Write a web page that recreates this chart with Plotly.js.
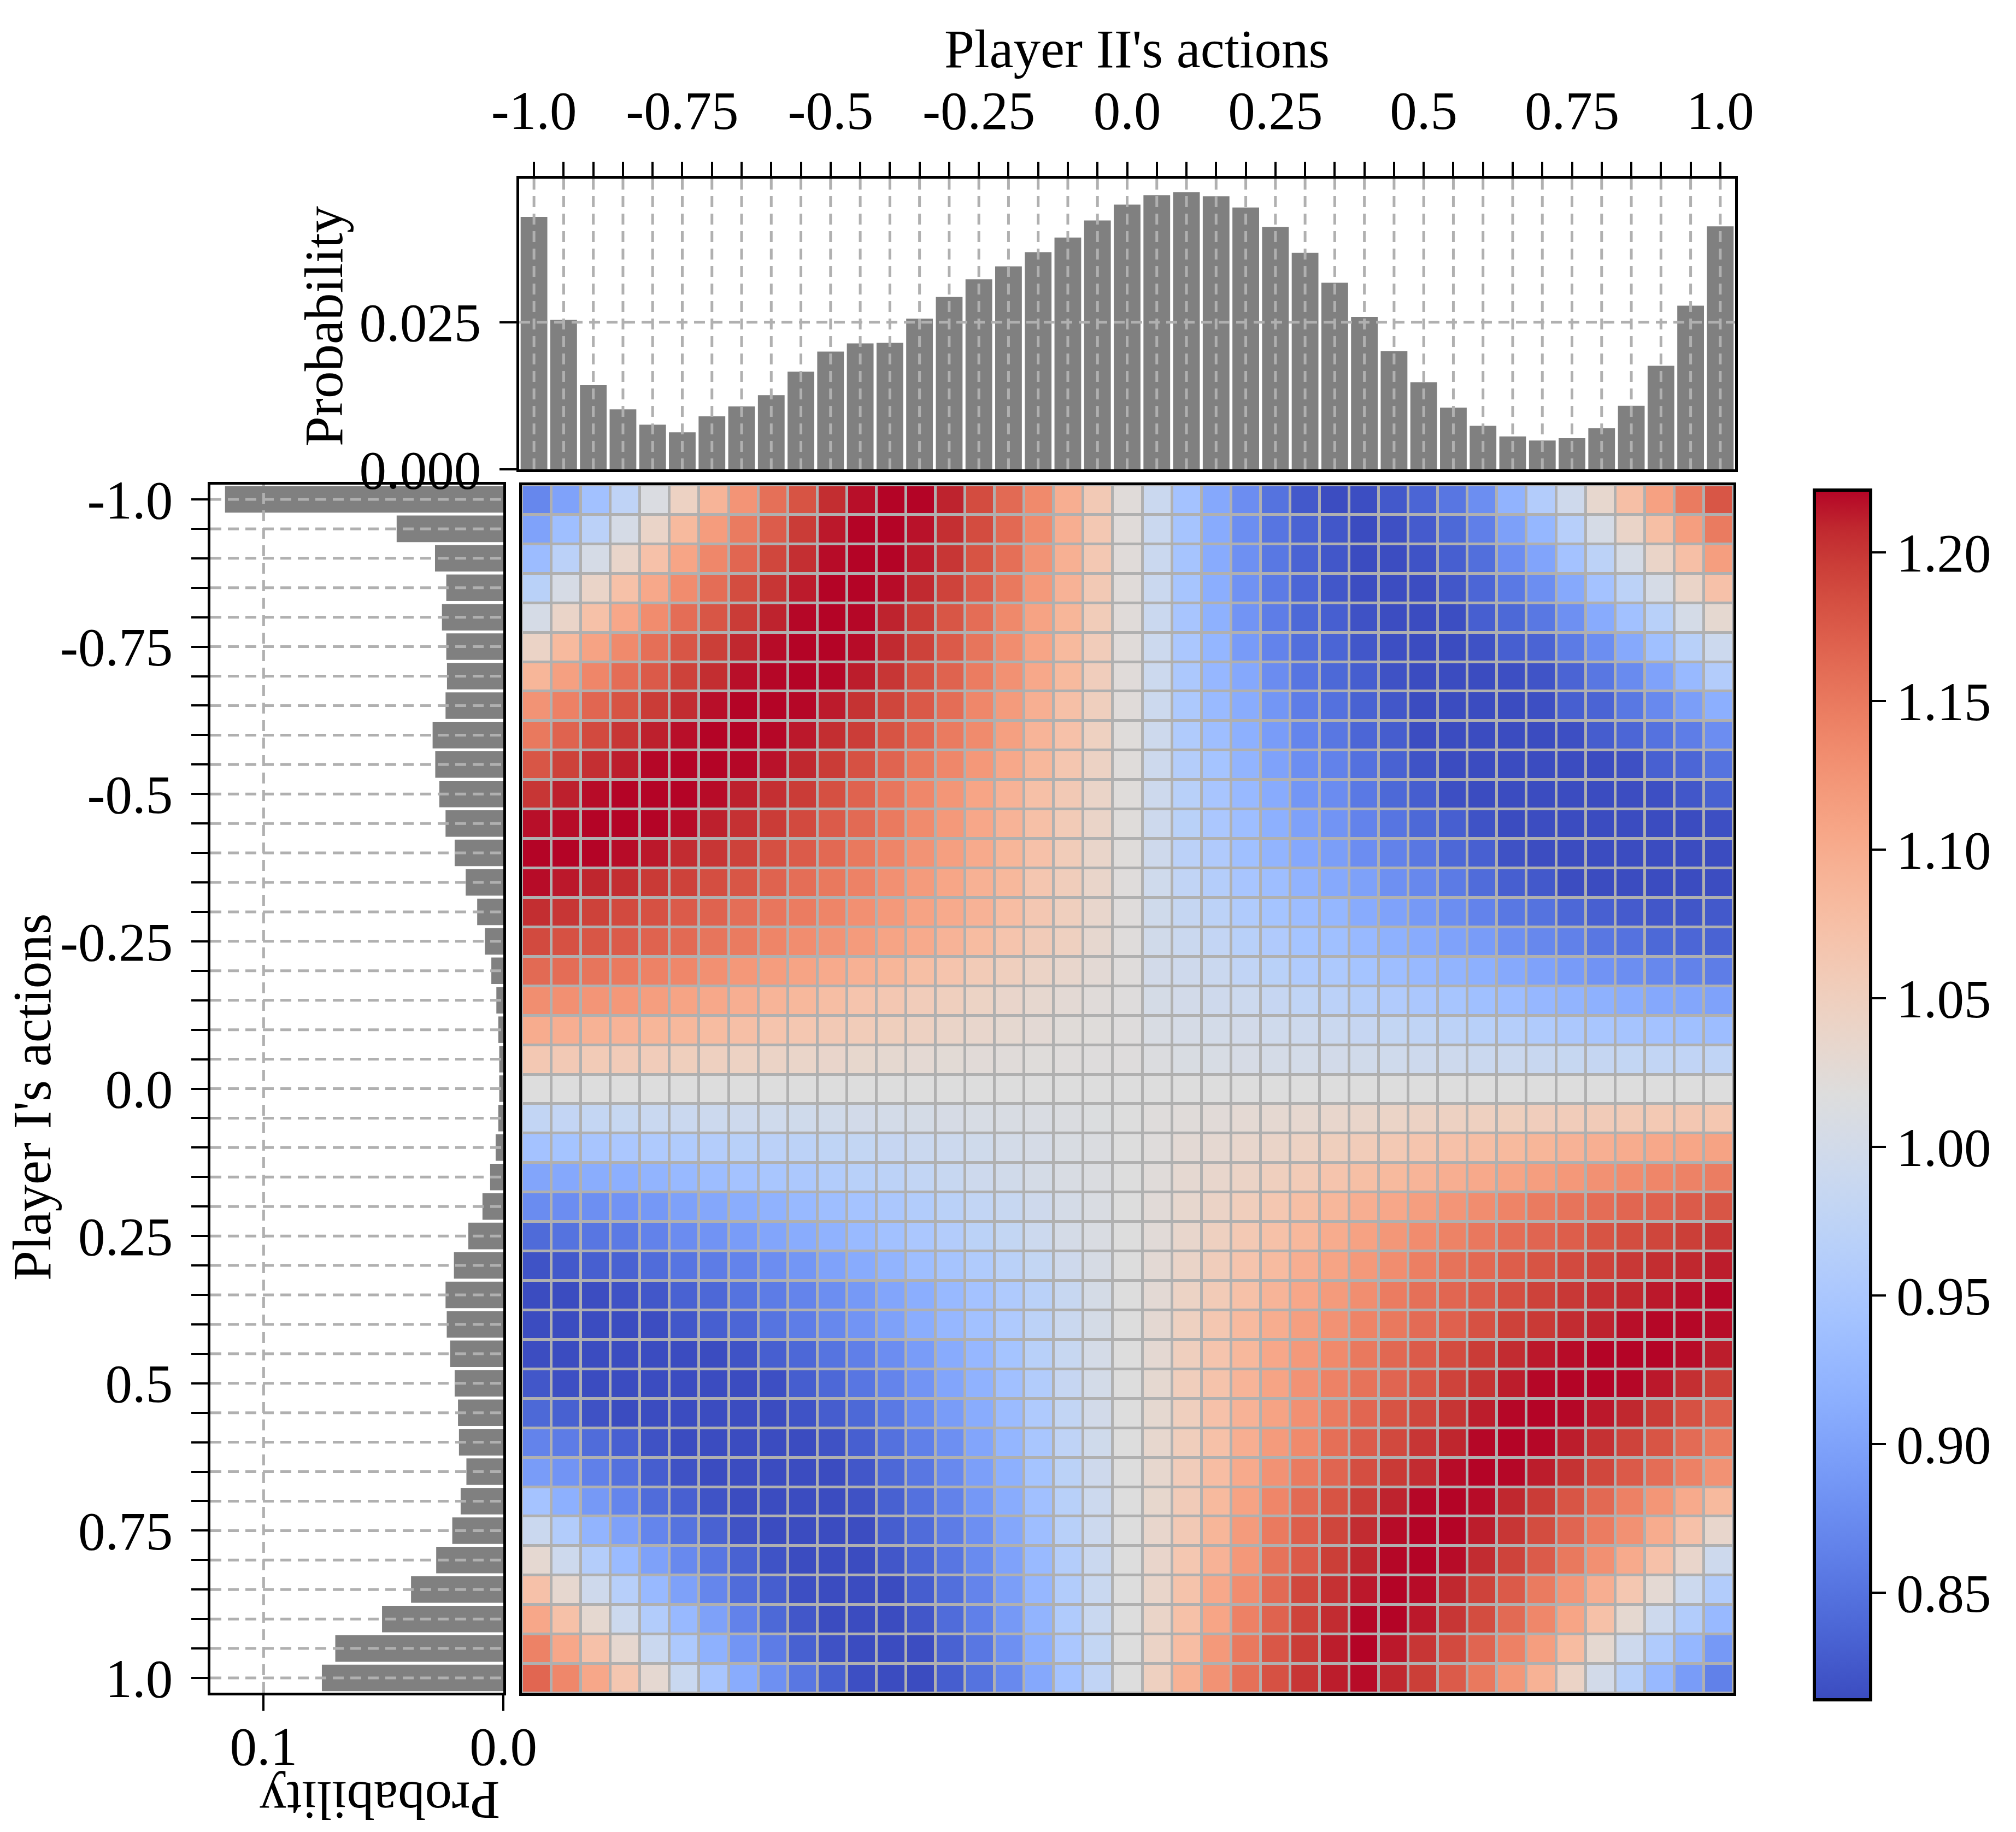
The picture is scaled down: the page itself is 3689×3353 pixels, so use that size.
<!DOCTYPE html>
<html><head><meta charset="utf-8">
<script src="https://cdn.plot.ly/plotly-3.0.1.min.js"></script>
<style>html,body{margin:0;padding:0;background:#fff;}#chart{width:3689px;height:3353px;}</style>
</head><body><div id="chart"></div>
<script>
// ---------- data ----------
const actions = [-1.0,-0.95,-0.9,-0.85,-0.8,-0.75,-0.7,-0.65,-0.6,-0.55,-0.5,-0.45,-0.4,-0.35,-0.3,-0.25,-0.2,-0.15,-0.1,-0.05,0.0,0.05,0.1,0.15,0.2,0.25,0.3,0.35,0.4,0.45,0.5,0.55,0.6,0.65,0.7,0.75,0.8,0.85,0.9,0.95,1.0];
const majorTicks = [-1.0,-0.75,-0.5,-0.25,0.0,0.25,0.5,0.75,1.0];
const majorLabels = ['-1.0','-0.75','-0.5','-0.25','0.0','0.25','0.5','0.75','1.0'];

// marginal probability of Player II's actions (top histogram)
const probPlayerII = [0.0429,0.0254,0.0143,0.0102,0.0076,0.0063,0.0090,0.0107,0.0126,0.0166,0.0200,0.0214,0.0215,0.0256,0.0293,0.0323,0.0345,0.0369,0.0394,0.0423,0.0450,0.0466,0.0471,0.0464,0.0445,0.0412,0.0368,0.0317,0.0259,0.0201,0.0148,0.0105,0.0074,0.0056,0.0049,0.0053,0.0070,0.0108,0.0176,0.0278,0.0413];
// marginal probability of Player I's actions (left histogram)
const probPlayerI = [0.1161,0.0445,0.0285,0.0238,0.0256,0.0238,0.0235,0.0241,0.0295,0.0284,0.0267,0.0241,0.0203,0.0157,0.0109,0.0077,0.0050,0.0029,0.0021,0.0017,0.0017,0.0021,0.0032,0.0055,0.0087,0.0146,0.0206,0.0241,0.0236,0.0222,0.0203,0.0189,0.0185,0.0154,0.0178,0.0213,0.0280,0.0385,0.0506,0.0701,0.0757];

const probTickVals = [0.0, 0.025];
const probTickText = ['0.000', '0.025'];
const probITickVals = [0.1, 0.0];
const probITickText = ['0.1', '0.0'];
const cbTickVals = [0.85,0.90,0.95,1.00,1.05,1.10,1.15,1.20];
const cbTickText = ['0.85','0.90','0.95','1.00','1.05','1.10','1.15','1.20'];

// payoff matrix: rows = Player I's action, columns = Player II's action
const payoff = [
[0.870,0.900,0.940,0.975,1.012,1.045,1.090,1.125,1.157,1.180,1.205,1.217,1.224,1.224,1.210,1.186,1.162,1.135,1.097,1.060,1.022,0.990,0.942,0.906,0.877,0.850,0.826,0.815,0.816,0.826,0.837,0.853,0.878,0.920,0.960,0.995,1.033,1.075,1.112,1.148,1.178],
[0.900,0.937,0.970,1.005,1.040,1.083,1.117,1.148,1.173,1.197,1.214,1.224,1.224,1.216,1.204,1.186,1.163,1.134,1.097,1.062,1.022,0.990,0.945,0.910,0.878,0.852,0.835,0.824,0.814,0.818,0.828,0.840,0.862,0.897,0.925,0.965,1.005,1.040,1.076,1.115,1.148],
[0.933,0.970,1.005,1.038,1.072,1.108,1.137,1.165,1.189,1.204,1.218,1.224,1.224,1.213,1.200,1.180,1.158,1.126,1.095,1.062,1.022,0.990,0.945,0.910,0.880,0.855,0.835,0.824,0.814,0.815,0.820,0.831,0.846,0.877,0.902,0.942,0.972,1.005,1.040,1.075,1.115],
[0.968,1.006,1.040,1.073,1.104,1.133,1.160,1.185,1.200,1.213,1.223,1.224,1.218,1.207,1.192,1.173,1.150,1.120,1.092,1.060,1.022,0.990,0.946,0.914,0.882,0.858,0.838,0.824,0.815,0.815,0.815,0.824,0.838,0.856,0.878,0.908,0.942,0.972,1.005,1.040,1.072],
[1.005,1.040,1.073,1.105,1.133,1.160,1.178,1.197,1.210,1.220,1.224,1.220,1.210,1.197,1.178,1.160,1.136,1.110,1.088,1.056,1.022,0.990,0.947,0.917,0.884,0.860,0.840,0.831,0.819,0.815,0.813,0.816,0.831,0.840,0.855,0.880,0.910,0.940,0.967,1.003,1.031],
[1.042,1.083,1.110,1.135,1.158,1.178,1.195,1.208,1.218,1.224,1.224,1.218,1.207,1.193,1.175,1.153,1.132,1.108,1.083,1.055,1.022,0.992,0.950,0.924,0.892,0.866,0.846,0.837,0.824,0.817,0.813,0.813,0.819,0.831,0.836,0.858,0.878,0.908,0.938,0.966,0.992],
[1.088,1.113,1.138,1.160,1.175,1.193,1.205,1.217,1.220,1.224,1.220,1.212,1.200,1.183,1.168,1.147,1.128,1.104,1.083,1.053,1.022,0.992,0.952,0.926,0.906,0.876,0.852,0.840,0.830,0.819,0.814,0.813,0.814,0.817,0.821,0.836,0.854,0.874,0.899,0.929,0.960],
[1.126,1.143,1.165,1.180,1.197,1.206,1.217,1.221,1.224,1.220,1.213,1.202,1.190,1.176,1.160,1.137,1.118,1.096,1.074,1.050,1.022,0.992,0.953,0.930,0.911,0.886,0.860,0.848,0.834,0.824,0.814,0.813,0.812,0.814,0.817,0.831,0.836,0.855,0.872,0.895,0.915],
[1.150,1.168,1.187,1.200,1.211,1.217,1.221,1.224,1.220,1.214,1.205,1.196,1.180,1.165,1.148,1.134,1.113,1.090,1.072,1.047,1.021,0.993,0.957,0.935,0.916,0.893,0.868,0.854,0.838,0.829,0.815,0.813,0.813,0.812,0.813,0.817,0.829,0.838,0.849,0.860,0.877],
[1.178,1.193,1.204,1.212,1.220,1.223,1.224,1.220,1.216,1.208,1.197,1.182,1.167,1.150,1.137,1.121,1.104,1.085,1.065,1.044,1.021,0.994,0.962,0.944,0.922,0.900,0.878,0.865,0.848,0.834,0.820,0.814,0.813,0.812,0.812,0.813,0.814,0.818,0.832,0.838,0.850],
[1.200,1.211,1.218,1.222,1.224,1.221,1.218,1.211,1.204,1.197,1.183,1.168,1.152,1.137,1.123,1.108,1.092,1.074,1.060,1.040,1.021,0.994,0.967,0.947,0.929,0.910,0.886,0.876,0.856,0.840,0.830,0.817,0.814,0.813,0.812,0.812,0.812,0.815,0.817,0.824,0.833],
[1.217,1.218,1.223,1.224,1.223,1.218,1.211,1.203,1.197,1.187,1.174,1.162,1.149,1.134,1.120,1.105,1.091,1.074,1.058,1.040,1.021,0.994,0.968,0.950,0.935,0.916,0.898,0.884,0.866,0.852,0.840,0.831,0.820,0.814,0.815,0.812,0.812,0.812,0.814,0.814,0.817],
[1.224,1.222,1.221,1.218,1.214,1.206,1.200,1.193,1.183,1.174,1.163,1.150,1.139,1.126,1.114,1.102,1.088,1.072,1.056,1.038,1.021,0.995,0.970,0.956,0.938,0.922,0.906,0.895,0.877,0.865,0.854,0.839,0.832,0.819,0.815,0.813,0.812,0.812,0.812,0.812,0.812],
[1.218,1.214,1.209,1.205,1.198,1.193,1.184,1.178,1.168,1.159,1.150,1.142,1.129,1.118,1.107,1.094,1.085,1.065,1.054,1.038,1.020,0.996,0.978,0.962,0.947,0.935,0.920,0.908,0.898,0.880,0.871,0.858,0.843,0.831,0.826,0.815,0.814,0.813,0.812,0.814,0.815],
[1.205,1.200,1.193,1.187,1.182,1.174,1.168,1.159,1.152,1.147,1.139,1.129,1.120,1.110,1.102,1.092,1.078,1.063,1.050,1.036,1.020,0.997,0.983,0.972,0.957,0.944,0.934,0.925,0.910,0.900,0.889,0.878,0.866,0.855,0.850,0.839,0.832,0.828,0.824,0.823,0.826],
[1.187,1.182,1.178,1.174,1.168,1.162,1.153,1.148,1.139,1.132,1.126,1.118,1.109,1.102,1.091,1.080,1.068,1.057,1.048,1.032,1.020,0.998,0.990,0.980,0.967,0.956,0.944,0.938,0.928,0.917,0.910,0.899,0.893,0.880,0.871,0.864,0.854,0.849,0.840,0.838,0.835],
[1.162,1.160,1.153,1.149,1.142,1.137,1.129,1.121,1.116,1.109,1.102,1.094,1.088,1.076,1.068,1.058,1.050,1.042,1.035,1.027,1.020,1.000,0.995,0.990,0.978,0.968,0.957,0.953,0.944,0.935,0.929,0.922,0.916,0.908,0.899,0.892,0.883,0.878,0.871,0.865,0.860],
[1.131,1.129,1.124,1.121,1.115,1.109,1.104,1.097,1.090,1.085,1.077,1.068,1.063,1.055,1.050,1.043,1.037,1.032,1.027,1.022,1.019,1.004,1.000,0.995,0.992,0.984,0.977,0.970,0.963,0.958,0.951,0.946,0.938,0.934,0.926,0.922,0.917,0.912,0.907,0.904,0.900],
[1.100,1.097,1.093,1.091,1.088,1.085,1.080,1.075,1.068,1.064,1.060,1.056,1.051,1.046,1.040,1.035,1.031,1.027,1.023,1.021,1.019,1.009,1.005,1.002,1.000,0.996,0.994,0.990,0.984,0.981,0.977,0.972,0.967,0.963,0.957,0.952,0.948,0.945,0.942,0.938,0.934],
[1.062,1.060,1.058,1.057,1.055,1.051,1.048,1.045,1.042,1.039,1.037,1.034,1.031,1.028,1.026,1.024,1.022,1.021,1.020,1.019,1.019,1.014,1.010,1.008,1.006,1.003,1.002,1.000,0.998,0.996,0.994,0.993,0.990,0.989,0.987,0.985,0.983,0.981,0.979,0.978,0.977],
[1.018,1.018,1.018,1.018,1.018,1.018,1.018,1.018,1.018,1.018,1.018,1.018,1.018,1.018,1.018,1.018,1.018,1.018,1.018,1.018,1.018,1.018,1.018,1.018,1.018,1.018,1.018,1.018,1.018,1.018,1.018,1.018,1.018,1.018,1.018,1.018,1.018,1.018,1.018,1.018,1.018],
[0.979,0.980,0.982,0.985,0.988,0.990,0.992,0.994,0.996,0.997,0.998,1.000,1.002,1.004,1.006,1.008,1.009,1.011,1.013,1.015,1.017,1.020,1.022,1.024,1.028,1.030,1.032,1.036,1.038,1.041,1.044,1.046,1.048,1.051,1.053,1.055,1.057,1.059,1.061,1.063,1.064],
[0.942,0.944,0.947,0.950,0.955,0.957,0.961,0.966,0.970,0.972,0.976,0.981,0.984,0.990,0.992,0.997,1.002,1.005,1.010,1.013,1.017,1.020,1.027,1.030,1.036,1.040,1.045,1.051,1.056,1.061,1.067,1.072,1.077,1.083,1.088,1.092,1.096,1.100,1.104,1.107,1.110],
[0.903,0.907,0.912,0.915,0.921,0.928,0.934,0.942,0.948,0.952,0.959,0.966,0.972,0.979,0.986,0.994,0.998,1.004,1.009,1.013,1.017,1.022,1.030,1.036,1.042,1.050,1.058,1.068,1.076,1.083,1.090,1.097,1.103,1.109,1.115,1.121,1.128,1.133,1.138,1.142,1.146],
[0.875,0.877,0.879,0.883,0.888,0.898,0.905,0.912,0.919,0.928,0.935,0.943,0.951,0.959,0.969,0.979,0.986,0.995,1.003,1.011,1.017,1.024,1.033,1.042,1.052,1.064,1.076,1.086,1.097,1.105,1.115,1.124,1.132,1.140,1.148,1.154,1.160,1.165,1.169,1.174,1.178],
[0.842,0.850,0.853,0.857,0.865,0.876,0.883,0.893,0.903,0.911,0.919,0.930,0.940,0.950,0.960,0.971,0.981,0.992,1.003,1.011,1.017,1.024,1.036,1.048,1.061,1.073,1.085,1.100,1.111,1.122,1.133,1.141,1.151,1.160,1.166,1.172,1.180,1.185,1.190,1.195,1.200],
[0.820,0.826,0.831,0.834,0.843,0.852,0.859,0.866,0.877,0.886,0.899,0.910,0.922,0.935,0.945,0.957,0.969,0.981,0.995,1.007,1.017,1.027,1.040,1.054,1.068,1.081,1.097,1.109,1.120,1.132,1.145,1.155,1.163,1.172,1.180,1.187,1.193,1.199,1.205,1.208,1.212],
[0.812,0.813,0.815,0.819,0.824,0.834,0.839,0.850,0.859,0.867,0.878,0.889,0.903,0.914,0.929,0.942,0.955,0.969,0.986,1.004,1.017,1.027,1.043,1.058,1.073,1.090,1.105,1.118,1.131,1.147,1.157,1.165,1.174,1.184,1.193,1.199,1.204,1.208,1.214,1.217,1.220],
[0.812,0.812,0.812,0.813,0.815,0.824,0.831,0.838,0.851,0.860,0.871,0.884,0.898,0.912,0.926,0.940,0.955,0.972,0.990,1.004,1.017,1.029,1.047,1.064,1.082,1.099,1.114,1.127,1.140,1.150,1.161,1.169,1.182,1.193,1.198,1.206,1.210,1.217,1.220,1.220,1.218],
[0.815,0.813,0.812,0.812,0.812,0.812,0.814,0.820,0.831,0.839,0.851,0.862,0.877,0.893,0.910,0.926,0.944,0.966,0.986,1.003,1.017,1.029,1.050,1.068,1.085,1.105,1.120,1.135,1.150,1.164,1.174,1.186,1.197,1.206,1.214,1.218,1.223,1.223,1.223,1.218,1.212],
[0.824,0.817,0.813,0.812,0.812,0.812,0.812,0.813,0.817,0.830,0.839,0.853,0.867,0.884,0.903,0.919,0.939,0.959,0.984,1.002,1.017,1.031,1.052,1.070,1.090,1.109,1.127,1.142,1.155,1.166,1.179,1.192,1.202,1.212,1.220,1.223,1.223,1.220,1.214,1.204,1.194],
[0.840,0.833,0.819,0.814,0.812,0.812,0.812,0.812,0.814,0.820,0.829,0.840,0.856,0.875,0.893,0.911,0.932,0.955,0.979,1.000,1.017,1.031,1.050,1.072,1.092,1.110,1.129,1.148,1.165,1.180,1.190,1.201,1.212,1.220,1.223,1.220,1.214,1.208,1.197,1.182,1.171],
[0.866,0.859,0.843,0.832,0.819,0.814,0.812,0.812,0.812,0.813,0.819,0.831,0.848,0.863,0.879,0.903,0.924,0.948,0.975,0.997,1.017,1.033,1.052,1.073,1.097,1.118,1.135,1.158,1.174,1.188,1.200,1.209,1.220,1.223,1.220,1.212,1.203,1.192,1.179,1.161,1.148],
[0.893,0.884,0.863,0.848,0.830,0.819,0.814,0.812,0.812,0.812,0.814,0.824,0.839,0.854,0.872,0.896,0.916,0.944,0.971,0.995,1.017,1.033,1.055,1.078,1.102,1.127,1.148,1.166,1.184,1.198,1.206,1.218,1.223,1.220,1.212,1.202,1.189,1.175,1.160,1.143,1.127],
[0.943,0.916,0.889,0.868,0.843,0.832,0.820,0.814,0.812,0.812,0.813,0.819,0.833,0.848,0.865,0.888,0.911,0.939,0.967,0.992,1.017,1.034,1.057,1.083,1.110,1.138,1.162,1.180,1.197,1.210,1.220,1.223,1.218,1.208,1.197,1.179,1.163,1.143,1.123,1.102,1.083],
[0.990,0.959,0.921,0.898,0.868,0.850,0.834,0.819,0.814,0.812,0.812,0.815,0.830,0.843,0.859,0.879,0.905,0.935,0.967,0.992,1.017,1.036,1.060,1.088,1.118,1.149,1.172,1.190,1.206,1.218,1.223,1.223,1.212,1.200,1.185,1.166,1.147,1.128,1.100,1.072,1.036],
[1.030,0.994,0.962,0.931,0.898,0.872,0.853,0.834,0.820,0.814,0.812,0.813,0.824,0.837,0.853,0.874,0.899,0.930,0.962,0.990,1.017,1.037,1.064,1.092,1.121,1.155,1.175,1.195,1.209,1.220,1.223,1.218,1.206,1.192,1.174,1.150,1.129,1.102,1.072,1.037,0.993],
[1.072,1.032,0.995,0.965,0.928,0.898,0.869,0.843,0.830,0.817,0.812,0.812,0.814,0.830,0.846,0.867,0.895,0.926,0.959,0.988,1.017,1.038,1.070,1.104,1.132,1.162,1.189,1.203,1.214,1.223,1.218,1.208,1.192,1.175,1.148,1.124,1.097,1.064,1.028,0.992,0.959],
[1.105,1.073,1.031,0.992,0.959,0.928,0.898,0.865,0.840,0.824,0.814,0.812,0.813,0.824,0.843,0.863,0.889,0.921,0.957,0.988,1.017,1.040,1.073,1.108,1.143,1.168,1.192,1.206,1.220,1.223,1.214,1.200,1.185,1.162,1.137,1.108,1.073,1.031,0.994,0.959,0.929],
[1.142,1.105,1.072,1.032,0.990,0.953,0.917,0.885,0.859,0.833,0.819,0.812,0.812,0.815,0.834,0.854,0.880,0.915,0.950,0.981,1.017,1.042,1.078,1.120,1.150,1.177,1.197,1.212,1.223,1.214,1.200,1.187,1.166,1.143,1.115,1.080,1.031,0.994,0.957,0.925,0.889],
[1.165,1.137,1.105,1.065,1.030,0.988,0.947,0.911,0.880,0.854,0.833,0.817,0.812,0.812,0.830,0.850,0.872,0.907,0.943,0.978,1.017,1.048,1.093,1.127,1.157,1.182,1.200,1.212,1.218,1.208,1.195,1.174,1.150,1.122,1.093,1.042,1.000,0.966,0.929,0.893,0.864]
];

// ---------- styling ----------
payoff.forEach((r, i) => { if (r.length !== actions.length) throw new Error('payoff row ' + i + ' has ' + r.length + ' values'); });
if (payoff.length !== actions.length) throw new Error('payoff rows: ' + payoff.length);

const coolwarm = [
 [0.0,'rgb(59,76,192)'],[0.03125,'rgb(68,90,204)'],[0.0625,'rgb(77,104,215)'],[0.09375,'rgb(87,117,225)'],
 [0.125,'rgb(98,130,234)'],[0.15625,'rgb(108,142,241)'],[0.1875,'rgb(119,154,247)'],[0.21875,'rgb(130,165,251)'],
 [0.25,'rgb(141,176,254)'],[0.28125,'rgb(152,185,255)'],[0.3125,'rgb(163,194,255)'],[0.34375,'rgb(174,201,253)'],
 [0.375,'rgb(184,208,249)'],[0.40625,'rgb(194,213,244)'],[0.4375,'rgb(204,217,238)'],[0.46875,'rgb(213,219,230)'],
 [0.5,'rgb(221,221,221)'],[0.53125,'rgb(229,216,209)'],[0.5625,'rgb(236,211,197)'],[0.59375,'rgb(241,204,185)'],
 [0.625,'rgb(245,196,173)'],[0.65625,'rgb(247,187,160)'],[0.6875,'rgb(247,177,148)'],[0.71875,'rgb(247,166,135)'],
 [0.75,'rgb(244,154,123)'],[0.78125,'rgb(241,141,111)'],[0.8125,'rgb(236,127,99)'],[0.84375,'rgb(229,112,88)'],
 [0.875,'rgb(222,96,77)'],[0.90625,'rgb(213,80,66)'],[0.9375,'rgb(203,62,56)'],[0.96875,'rgb(192,40,47)'],[1.0,'rgb(180,4,38)']
];

const W = 3689, H = 3353;
const FONT = 'Liberation Serif, Times New Roman, serif';
const FS = 99;
const GRID = '#b0b0b0';
const BAR = '#808080';

const tickText = actions.map(a => { const k = majorTicks.findIndex(m => Math.abs(m - a) < 1e-9); return k >= 0 ? majorLabels[k] : ''; });

// pixel boxes measured on the reference
const px = (x) => x / W, py = (y) => 1 - y / H;
const heatX = [px(955), px(3172)], heatY = [py(3099), py(888)];
const topX = [px(950), px(3175)], topY = [py(859), py(327)];
const leftX = [px(385), px(921)], leftY = [py(3098), py(887)];

const baseAxis = {
  showline: true, linewidth: 5, linecolor: 'black', mirror: true,
  showgrid: false, zeroline: false, ticks: 'outside', tickwidth: 4, tickcolor: 'black',
  tickfont: {family: FONT, size: FS, color: 'black'}, fixedrange: true
};

const traces = [
  { type: 'bar', orientation: 'h', x: probPlayerI, y: actions, width: 0.045,
    marker: {color: BAR, line: {width: 0}}, xaxis: 'x', yaxis: 'y', hoverinfo: 'skip' },
  { type: 'bar', x: actions, y: probPlayerII, width: 0.045,
    marker: {color: BAR, line: {width: 0}}, xaxis: 'x2', yaxis: 'y2', hoverinfo: 'skip' },
  { type: 'heatmap', x: actions, y: actions, z: payoff, xaxis: 'x3', yaxis: 'y3',
    colorscale: coolwarm, zmin: 0.814, zmax: 1.221, xgap: 5, ygap: 5, hoverinfo: 'skip',
    colorbar: { x: px(3320), xanchor: 'left', y: 1 - 2004 / H, yanchor: 'middle',
      len: (3111 - 897) / H, lenmode: 'fraction', thickness: 103, thicknessmode: 'pixels',
      outlinewidth: 6, outlinecolor: 'black', ticks: 'outside', ticklen: 25, tickwidth: 4, tickcolor: 'black',
      tickvals: cbTickVals, ticktext: cbTickText, tickfont: {family: FONT, size: FS, color: 'black'},
      xpad: 0, ypad: 0, ticklabelstandoff: 22 } }
];

const shapes = [];
// heatmap cell borders (gray showing through the gaps)
shapes.push({type: 'rect', xref: 'x3 domain', yref: 'y3 domain', x0: 0, x1: 1, y0: 0, y1: 1,
  fillcolor: GRID, line: {width: 0}, layer: 'below'});
const dash = {color: GRID, width: 5, dash: '20px,12px'};
actions.forEach(a => {
  shapes.push({type: 'line', xref: 'x2', yref: 'y2 domain', x0: a, x1: a, y0: 0, y1: 1, line: dash, layer: 'above'});
  shapes.push({type: 'line', xref: 'x domain', yref: 'y', x0: 0, x1: 1, y0: a, y1: a, line: dash, layer: 'above'});
});
probTickVals.filter(v => v > 0).forEach(v => shapes.push({type: 'line', xref: 'x2 domain', yref: 'y2', x0: 0, x1: 1, y0: v, y1: v, line: dash, layer: 'above'}));
probITickVals.filter(v => v > 0).forEach(v => shapes.push({type: 'line', xref: 'x', yref: 'y domain', x0: v, x1: v, y0: 0, y1: 1, line: dash, layer: 'above'}));

const titleFont = {family: FONT, size: FS, color: 'black'};
const layout = {
  width: W, height: H, margin: {l: 0, r: 0, t: 0, b: 0, pad: 0},
  paper_bgcolor: 'white', plot_bgcolor: 'white', showlegend: false,
  font: {family: FONT, size: FS, color: 'black'},
  // left histogram: Player I
  xaxis: Object.assign({}, baseAxis, {domain: leftX, anchor: 'y', range: [0.1222, 0],
    tickvals: probITickVals, ticktext: probITickText, ticklen: 28, ticklabelstandoff: -20}),
  yaxis: Object.assign({}, baseAxis, {domain: leftY, anchor: 'x', range: [1.025, -1.025],
    tickvals: actions, ticktext: tickText, ticklen: 30, ticklabelstandoff: 14}),
  // top histogram: Player II
  xaxis2: Object.assign({}, baseAxis, {domain: topX, anchor: 'y2', side: 'top', range: [-1.025, 1.025],
    tickvals: actions, ticktext: tickText, ticklen: 26, ticklabelstandoff: 20}),
  yaxis2: Object.assign({}, baseAxis, {domain: topY, anchor: 'x2', range: [0, 0.0494],
    tickvals: probTickVals, ticktext: probTickText, ticklen: 31, ticklabelstandoff: 14}),
  // heatmap
  xaxis3: Object.assign({}, baseAxis, {domain: heatX, anchor: 'y3', range: [-1.025, 1.025], ticks: '', showticklabels: false}),
  yaxis3: Object.assign({}, baseAxis, {domain: heatY, anchor: 'x3', range: [1.025, -1.025], ticks: '', showticklabels: false}),
  shapes: shapes,
  annotations: [
    {text: "Player II's actions", xref: 'paper', yref: 'paper', x: px(2080), y: py(90), xanchor: 'center', yanchor: 'middle', showarrow: false, font: titleFont},
    {text: 'Probability', xref: 'paper', yref: 'paper', x: px(592), y: py(597), xanchor: 'center', yanchor: 'middle', textangle: -90, showarrow: false, font: titleFont},
    {text: "Player I's actions", xref: 'paper', yref: 'paper', x: px(58), y: py(2008), xanchor: 'center', yanchor: 'middle', textangle: -90, showarrow: false, font: titleFont},
    {text: 'Probability', xref: 'paper', yref: 'paper', x: px(695), y: py(3296), xanchor: 'center', yanchor: 'middle', textangle: 180, showarrow: false, font: titleFont}
  ]
};

Plotly.newPlot('chart', traces, layout, {staticPlot: true, displayModeBar: false});
</script>
</body></html>
